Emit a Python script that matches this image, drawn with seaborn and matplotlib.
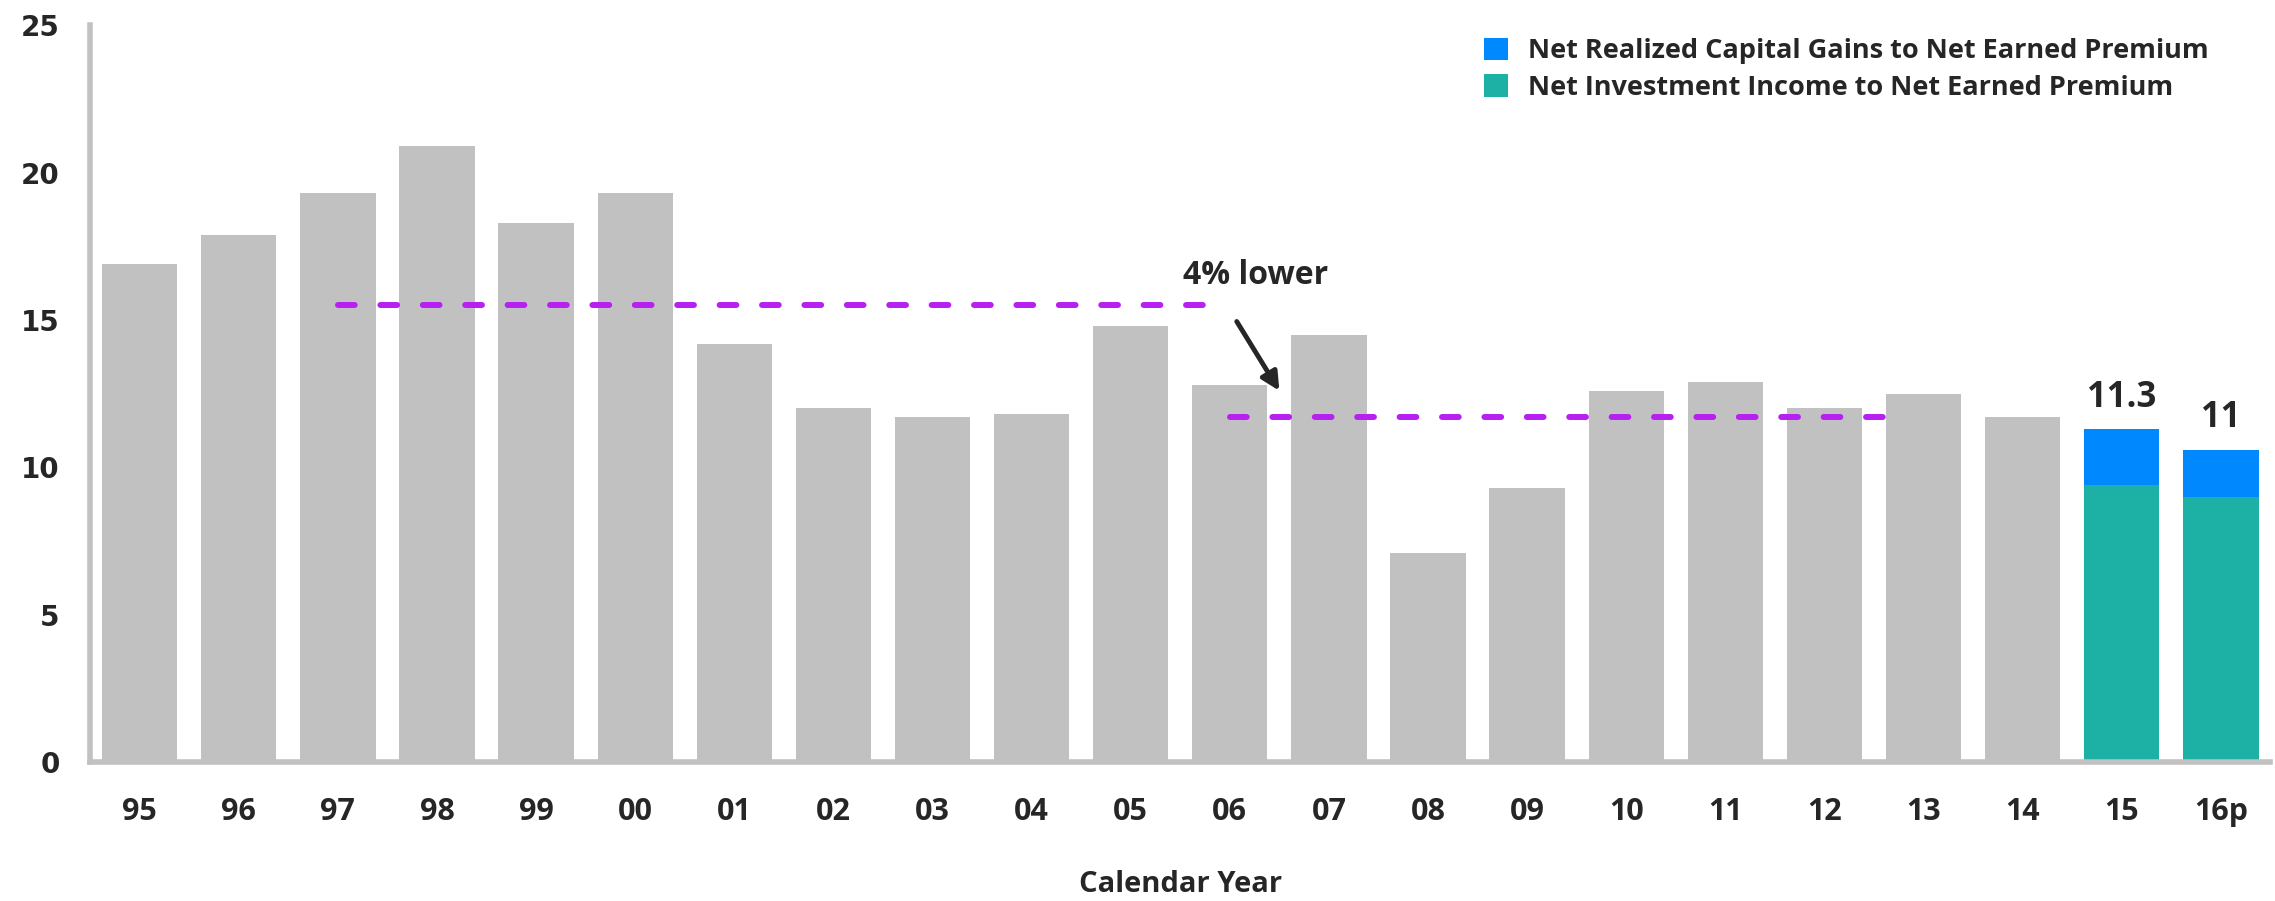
import matplotlib
matplotlib.use("Agg")
import matplotlib.pyplot as plt
import seaborn as sns
import pandas as pd
import numpy as np
from matplotlib.patches import Patch

years = ["95", "96", "97", "98", "99", "00", "01", "02", "03", "04", "05",
         "06", "07", "08", "09", "10", "11", "12", "13", "14", "15", "16p"]
total_ratio = [16.9, 17.9, 19.3, 20.9, 18.3, 19.3, 14.2, 12.0, 11.7, 11.8, 14.8,
               12.8, 14.5, 7.1, 9.3, 12.6, 12.9, 12.0, 12.5, 11.7, None, None]
invest_income = [None] * 20 + [9.4, 9.0]
cap_gains = [None] * 20 + [1.9, 1.6]
total_labels = ["11.3", "11"]
avg_early = 15.5
avg_late = 11.7

GRAY = "#C1C1C1"
BLUE = "#0088FF"
TEAL = "#1DB0A4"
PURPLE = "#B620F0"
TXT = "#262626"

sns.set_theme(style="white")
plt.rcParams["font.family"] = ["Open Sans", "DejaVu Sans"]

df = pd.DataFrame({"year": years,
                   "total": total_ratio,
                   "income": invest_income,
                   "gains": cap_gains})
df["stack_top"] = df["income"] + df["gains"]

fig = plt.figure(figsize=(22.75, 9.01), dpi=100)
ax = fig.add_axes([0.0396, 0.154, 0.9584, 0.818])

sns.barplot(data=df, x="year", y="total", order=years, color=GRAY,
            width=0.76, saturation=1, ax=ax, linewidth=0)
sns.barplot(data=df, x="year", y="stack_top", order=years, color=BLUE,
            width=0.76, saturation=1, ax=ax, linewidth=0)
sns.barplot(data=df, x="year", y="income", order=years, color=TEAL,
            width=0.76, saturation=1, ax=ax, linewidth=0)

# average dashed lines
for x0, x1, yv in [(2, 10.8, avg_early), (11, 17.6, avg_late)]:
    ax.plot([x0, x1], [yv, yv], color=PURPLE, lw=4.3,
            dashes=(2.8, 4.3), dash_capstyle="round")

ax.annotate("", xy=(11.5, 12.6), xytext=(11.07, 14.95),
            arrowprops=dict(arrowstyle="-|>,head_length=0.9,head_width=0.45",
                            color=TXT, lw=3.5, shrinkA=0, shrinkB=0))
ax.text(11.26, 16.5, "4% lower", ha="center", va="center", fontsize=23,
        fontweight="bold", color=TXT)

# total labels
for i, lab in enumerate(total_labels):
    xi = 20 + i
    top = df["stack_top"].iloc[xi]
    ax.text(xi, top + 0.45, lab, ha="center", va="bottom", fontsize=25,
            fontweight="bold", color=TXT)

ax.set_xlim(-0.5, 21.5)
ax.set_ylim(0, 25)
ax.set_yticks([0, 5, 10, 15, 20, 25])
ax.set_xlabel("Calendar Year", fontsize=21, fontweight="bold", color=TXT,
              labelpad=31)
ax.set_ylabel("")

for lab in ax.get_xticklabels():
    lab.set_fontweight("bold")
    lab.set_fontsize(22)
    lab.set_color(TXT)
for lab in ax.get_yticklabels():
    lab.set_fontweight("bold")
    lab.set_fontsize(20)
    lab.set_color(TXT)
    lab.set_family(["DejaVu Sans"])
ax.tick_params(axis="x", length=0, pad=25)
ax.tick_params(axis="y", length=0, pad=22)

for s in ["top", "right"]:
    ax.spines[s].set_visible(False)
for s in ["left", "bottom"]:
    ax.spines[s].set_color(GRAY)
    ax.spines[s].set_linewidth(4)

handles = [Patch(facecolor=BLUE, edgecolor="none",
                 label="Net Realized Capital Gains to Net Earned Premium"),
           Patch(facecolor=TEAL, edgecolor="none",
                 label="Net Investment Income to Net Earned Premium")]
leg = ax.legend(handles=handles, loc="upper left",
                bbox_to_anchor=(0.628, 1.016), frameon=False,
                prop={"size": 19.5, "weight": "bold"}, handlelength=0.9,
                handleheight=0.9, handletextpad=0.75, labelspacing=0.36)
for t in leg.get_texts():
    t.set_color(TXT)

fig.savefig("out.png", dpi=100)
